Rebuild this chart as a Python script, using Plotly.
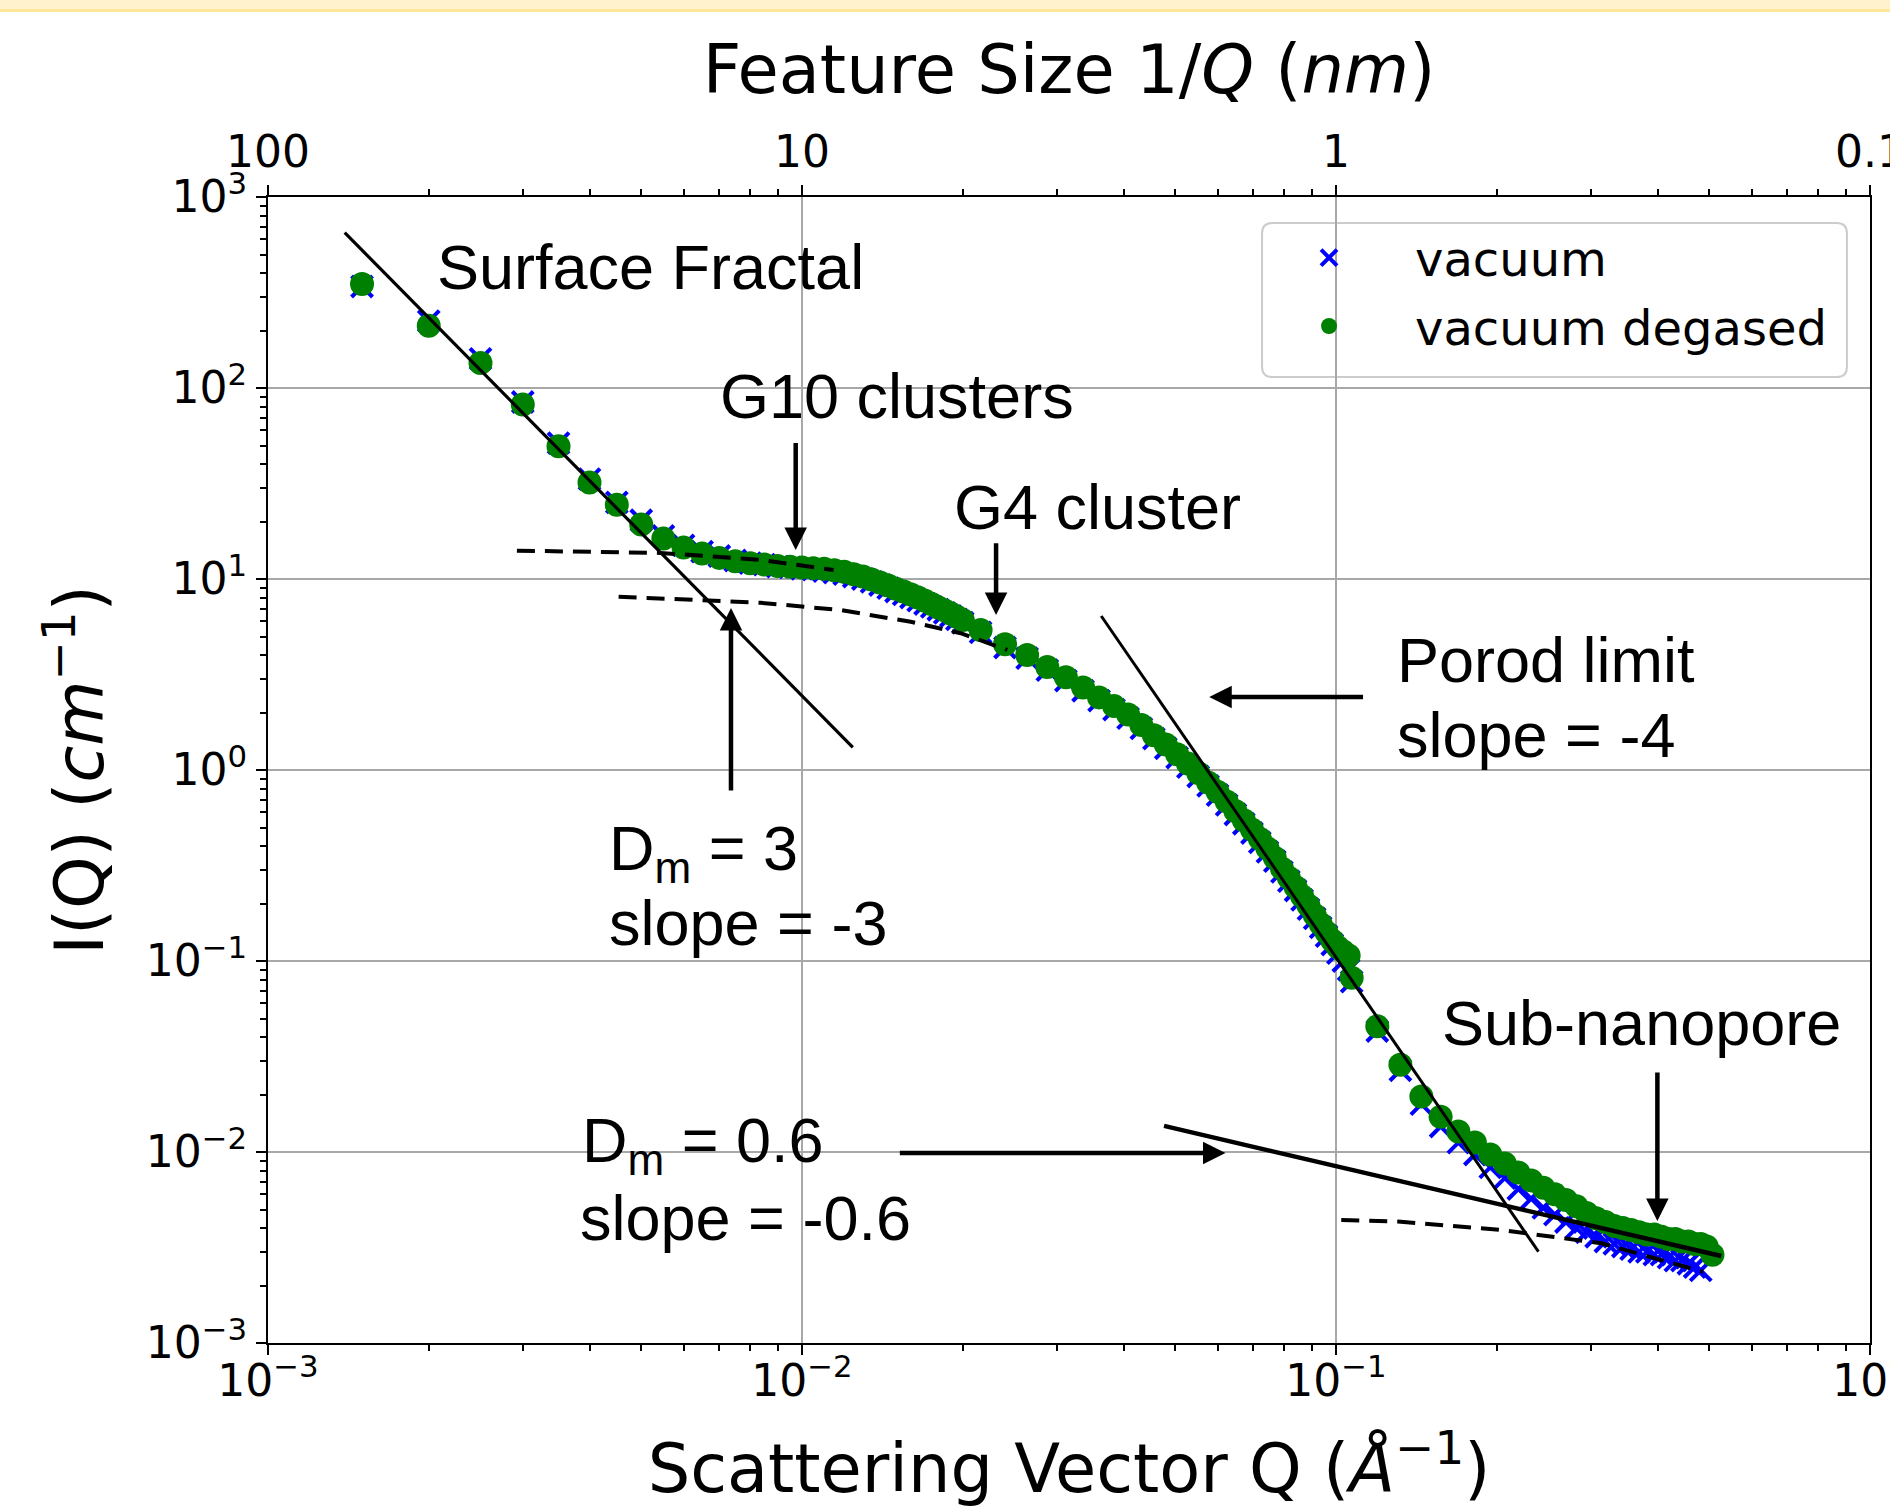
import math
import plotly.graph_objects as go

# ---------------- data ----------------
q_degased = [
    0.0015, 0.0020, 0.0025, 0.0030, 0.0035, 0.0040, 0.0045, 0.0050, 0.0055, 0.0060,
    0.0065, 0.0070, 0.0075, 0.0080, 0.0085, 0.0090, 0.0095, 0.0100, 0.0105, 0.0110,
    0.0115, 0.0120, 0.0125, 0.0130, 0.0135, 0.0140, 0.0145, 0.0150, 0.0155, 0.0160,
    0.0165, 0.0170, 0.0175, 0.0180, 0.0185, 0.0190, 0.0195, 0.0200,
    0.0216, 0.0240, 0.0264, 0.0288, 0.0312, 0.0336, 0.0360, 0.0384, 0.0408, 0.0432,
    0.0456, 0.0480, 0.0504, 0.0528, 0.0552, 0.0576, 0.0600, 0.0624, 0.0648, 0.0672,
    0.0696, 0.0720, 0.0744, 0.0768, 0.0792, 0.0816, 0.0840, 0.0864, 0.0888, 0.0912,
    0.0936, 0.0960, 0.0984, 0.1008, 0.1032, 0.1056,
    0.1070, 0.1195, 0.1320, 0.1445, 0.1570, 0.1695, 0.1820, 0.1945, 0.2070, 0.2195,
    0.2320, 0.2445, 0.2570, 0.2695, 0.2820, 0.2945, 0.3070, 0.3195, 0.3320, 0.3445,
    0.3570, 0.3695, 0.3820, 0.3945, 0.4070, 0.4195, 0.4320, 0.4445, 0.4570, 0.4695,
    0.4820, 0.4945, 0.5070,
]
i_degased = [
    350, 212, 135, 82, 49.5, 32, 24.5, 19.3, 16.3, 14.6,
    13.6, 12.9, 12.4, 12.1, 11.9, 11.7, 11.6, 11.5, 11.4, 11.3,
    11.1, 10.9, 10.6, 10.3, 9.95, 9.6, 9.25, 8.9, 8.6, 8.3,
    8.0, 7.7, 7.4, 7.1, 6.85, 6.6, 6.35, 6.1,
    5.41, 4.55, 4.00, 3.46, 3.06, 2.70, 2.40, 2.16, 1.95, 1.72,
    1.52, 1.36, 1.21, 1.08, 0.965, 0.86, 0.77, 0.685, 0.61, 0.545,
    0.488, 0.436, 0.389, 0.347, 0.305, 0.273, 0.244, 0.218, 0.195, 0.174,
    0.156, 0.141, 0.128, 0.118, 0.112, 0.107,
    0.0818, 0.0455, 0.0286, 0.0195, 0.0153, 0.0128, 0.0112, 0.0097, 0.0087, 0.0078,
    0.0071, 0.0065, 0.0060, 0.0056, 0.0052, 0.0048, 0.0045, 0.0043, 0.0041, 0.0040,
    0.0039, 0.0038, 0.0037, 0.0037, 0.0036, 0.0035, 0.0035, 0.0034, 0.0034, 0.0033,
    0.0033, 0.0032, 0.0029,
]

q_vacuum = [
    0.0015, 0.0020, 0.0025, 0.0030, 0.0035, 0.0040, 0.0045, 0.0050, 0.0055, 0.0060,
    0.0065, 0.0070, 0.0075, 0.0080, 0.0085, 0.0090, 0.0095, 0.0100, 0.0105, 0.0110,
    0.0115, 0.0120, 0.0125, 0.0130, 0.0135, 0.0140, 0.0145, 0.0150, 0.0155, 0.0160,
    0.0165, 0.0170, 0.0175, 0.0180, 0.0185, 0.0190, 0.0195, 0.0200,
    0.0216, 0.0240, 0.0264, 0.0288, 0.0312, 0.0336, 0.0360, 0.0384, 0.0408, 0.0432,
    0.0456, 0.0480, 0.0504, 0.0528, 0.0552, 0.0576, 0.0600, 0.0624, 0.0648, 0.0672,
    0.0696, 0.0720, 0.0744, 0.0768, 0.0792, 0.0816, 0.0840, 0.0864, 0.0888, 0.0912,
    0.0936, 0.0960, 0.0984, 0.1008, 0.1032, 0.1056,
    0.1070, 0.1195, 0.1320, 0.1445, 0.1570, 0.1695, 0.1820, 0.1945, 0.2070, 0.2195,
    0.2320, 0.2445, 0.2570, 0.2695, 0.2820, 0.2945, 0.3070, 0.3195, 0.3320, 0.3445,
    0.3570, 0.3695, 0.3820, 0.3945, 0.4070, 0.4195, 0.4320, 0.4445, 0.4570, 0.4695,
    0.4820,
]
i_vacuum = [
    340, 224, 142, 84.5, 51.5, 33.3, 25.2, 20.3, 16.8, 15.0,
    13.9, 13.2, 12.5, 12.1, 11.9, 11.6, 11.5, 11.3, 11.2, 11.0,
    10.8, 10.6, 10.3, 10.0, 9.65, 9.3, 8.95, 8.6, 8.3, 8.0,
    7.7, 7.4, 7.15, 6.9, 6.65, 6.4, 6.15, 5.9,
    5.25, 4.38, 3.85, 3.33, 2.94, 2.60, 2.31, 2.07, 1.87, 1.65,
    1.46, 1.30, 1.16, 1.035, 0.925, 0.825, 0.738, 0.657, 0.585, 0.523,
    0.468, 0.418, 0.373, 0.333, 0.293, 0.262, 0.234, 0.209, 0.187, 0.167,
    0.150, 0.135, 0.122, 0.110, 0.100, 0.090,
    0.078, 0.0430, 0.0268, 0.0178, 0.0136, 0.0112, 0.0097, 0.0083, 0.0073, 0.0064,
    0.0057, 0.0051, 0.0047, 0.0043, 0.0040, 0.0038, 0.0036, 0.0034, 0.0033, 0.0032,
    0.0031, 0.0030, 0.0030, 0.0029, 0.0029, 0.0028, 0.0027, 0.0027, 0.0026, 0.0025,
    0.0024,
]

# fitted power-law / model lines
surface_fit_q = [0.001392, 0.01245]
surface_fit_i = [651, 1.315]
porod_fit_q = [0.03634, 0.2394]
porod_fit_i = [6.40, 0.003006]
subnano_fit_q = [0.04764, 0.5266]
subnano_fit_i = [0.01369, 0.002854]
g10_fit_q = [0.002925, 0.00543, 0.00836, 0.01006, 0.01146]
g10_fit_i = [14.07, 13.7, 12.6, 11.8, 11.14]
g4_fit_q = [0.004535, 0.008358, 0.0118, 0.01598, 0.01982, 0.02424]
g4_fit_i = [8.08, 7.51, 6.88, 5.97, 5.20, 4.25]
subnano_model_q = [0.1023, 0.1323, 0.2038, 0.3139, 0.4867]
subnano_model_i = [0.004406, 0.004316, 0.003905, 0.003327, 0.002362]

# tick labels
q_ticks = [0.001, 0.01, 0.1, 1]
q_tick_text = ["10<sup>\u22123</sup>", "10<sup>\u22122</sup>", "10<sup>\u22121</sup>", "10<sup>0</sup>"]
size_tick_text = ["100", "10", "1", "0.1"]
i_ticks = [0.001, 0.01, 0.1, 1, 10, 100, 1000]
i_tick_text = ["10<sup>\u22123</sup>", "10<sup>\u22122</sup>", "10<sup>\u22121</sup>", "10<sup>0</sup>",
               "10<sup>1</sup>", "10<sup>2</sup>", "10<sup>3</sup>"]

# ---------------- figure ----------------
AXF = "DejaVu Sans"
ANF = "Liberation Sans, Arial"
L = math.log10

fig = go.Figure()
fig.add_trace(go.Scatter(
    x=q_vacuum, y=i_vacuum, mode="markers", name="vacuum", legendgroup="a",
    marker=dict(symbol="x-thin", size=21, color="#0000ff",
                line=dict(color="#0000ff", width=4))))
fig.add_trace(go.Scatter(
    x=q_degased, y=i_degased, mode="markers", name="vacuum degased", legendgroup="b",
    marker=dict(symbol="circle", size=24, color="#008000", line=dict(width=0))))

def line(qs, iis, width, dash="solid"):
    fig.add_trace(go.Scatter(x=qs, y=iis, mode="lines", showlegend=False, hoverinfo="skip",
                             line=dict(color="black", width=width, dash=dash)))

line(surface_fit_q, surface_fit_i, 3.2)
line(porod_fit_q, porod_fit_i, 3.0)
line(subnano_fit_q, subnano_fit_i, 4.4)
line(g10_fit_q, g10_fit_i, 4, "18px,10px")
line(g4_fit_q, g4_fit_i, 4, "18px,10px")
line(subnano_model_q, subnano_model_i, 4, "18px,10px")

# carrier trace for the top (feature size) axis
fig.add_trace(go.Scatter(x=[0.001, 1], y=[1, 1], xaxis="x2", mode="markers",
                         marker=dict(size=1, opacity=0), showlegend=False, hoverinfo="skip"))

# ---------------- annotations ----------------
texts = [
    ("Surface Fractal", 0.002055, 430),
    ("G10 clusters", 0.006976, 90.8),
    ("G4 cluster", 0.01913, 23.8),
    ("Porod limit", 0.1288, 3.789),
    ("slope = -4", 0.1288, 1.516),
    ("D<sub>m</sub> = 3", 0.004309, 0.370),
    ("slope = -3", 0.004309, 0.1576),
    ("D<sub>m</sub> = 0.6", 0.003840, 0.01093),
    ("slope = -0.6", 0.003812, 0.004539),
    ("Sub-nanopore", 0.1568, 0.04713),
]
annotations = []
for t, qx, iy in texts:
    annotations.append(dict(text=t, x=L(qx), y=L(iy), xref="x", yref="y",
                            xanchor="left", yanchor="middle", showarrow=False,
                            font=dict(family=ANF, size=63, color="black")))

# arrows: (tip_q, tip_i, tail_q, tail_i)
arrows = [
    (0.009732, 14.18, 0.009732, 52.4),     # G10 clusters
    (0.02309, 6.48, 0.02309, 15.68),       # G4 cluster
    (0.007362, 7.05, 0.007362, 0.767),     # Dm = 3
    (0.05790, 2.411, 0.1131, 2.411),       # Porod
    (0.06210, 0.00988, 0.01515, 0.00988),  # Dm = 0.6
    (0.3998, 0.004352, 0.3998, 0.02655),   # Sub-nanopore
]
for tq, ti, aq, ai in arrows:
    annotations.append(dict(text="", x=L(tq), y=L(ti), ax=L(aq), ay=L(ai),
                            xref="x", yref="y", axref="x", ayref="y",
                            showarrow=True, arrowhead=2, arrowsize=1.0,
                            arrowwidth=4.5, arrowcolor="black", standoff=0, startstandoff=0))

minor_vals = [m * 10 ** e for e in range(-3, 3) for m in range(2, 10)]

common = dict(type="log", showline=True, linecolor="black", linewidth=2,
              ticks="outside", ticklen=10, tickwidth=2, tickcolor="black",
              tickfont=dict(family=AXF, size=44, color="black"),
              zeroline=False, tickmode="array", ticklabeloverflow="allow", automargin=False)

# rounded legend frame (paper coordinates)
lx0, lx1, ly0, ly1 = 0.6205, 0.9856, 0.8429, 0.9773
rx, ry = 0.0065, 0.009
legend_frame = (f"M{lx0+rx},{ly0} L{lx1-rx},{ly0} Q{lx1},{ly0} {lx1},{ly0+ry} "
                f"L{lx1},{ly1-ry} Q{lx1},{ly1} {lx1-rx},{ly1} L{lx0+rx},{ly1} "
                f"Q{lx0},{ly1} {lx0},{ly1-ry} L{lx0},{ly0+ry} Q{lx0},{ly0} {lx0+rx},{ly0} Z")

fig.update_layout(
    width=1890, height=1509, autosize=False,
    margin=dict(l=268, r=20, t=197, b=166, pad=0, autoexpand=False),
    paper_bgcolor="white", plot_bgcolor="white",
    font=dict(family=AXF, color="black"),
    xaxis=dict(**common, range=[-3, 0], tickvals=q_ticks, ticktext=q_tick_text,
               showgrid=True, gridcolor="#a8a8a8", gridwidth=1.5, ticklabelstandoff=-12,
               minor=dict(ticks="outside", ticklen=6, tickwidth=1.5, tickcolor="black",
                          tickvals=minor_vals, showgrid=False),
               title=dict(text="Scattering Vector Q (<i>Å</i><sup>\u22121</sup>)",
                          font=dict(family=AXF, size=67, color="black"), standoff=40)),
    xaxis2=dict(**common, range=[-3, 0], tickvals=q_ticks, ticktext=size_tick_text,
                overlaying="x", side="top", anchor="y", showgrid=False,
                minor=dict(ticks="outside", ticklen=6, tickwidth=1.5, tickcolor="black",
                           tickvals=minor_vals, showgrid=False),
                title=dict(text="Feature Size 1/<i>Q</i> (<i>nm</i>)",
                           font=dict(family=AXF, size=67, color="black"), standoff=11)),
    yaxis=dict(**common, range=[-3, 3], tickvals=i_ticks, ticktext=i_tick_text,
               mirror=True, showgrid=True, gridcolor="#a8a8a8", gridwidth=1.5,
               minor=dict(ticks="outside", ticklen=6, tickwidth=1.5, tickcolor="black",
                          tickvals=minor_vals, showgrid=False),
               title=dict(text="I(Q) (<i>cm</i><sup>\u22121</sup>)",
                          font=dict(family=AXF, size=67, color="black"), standoff=20)),
    legend=dict(x=0.9763, xanchor="right", y=0.980, yanchor="top",
                bgcolor="rgba(0,0,0,0)", borderwidth=0,
                font=dict(family=AXF, size=48, color="black"),
                itemwidth=162, tracegroupgap=3),
    annotations=annotations,
    shapes=[
        dict(type="path", xref="paper", yref="paper", path=legend_frame,
             fillcolor="rgba(255,255,255,0.92)", line=dict(color="#cccccc", width=2),
             layer="between"),
        dict(type="rect", xref="paper", yref="paper", x0=-0.2, x1=1.05, y0=1.1636, y1=1.18,
             fillcolor="#fff2cc", line=dict(width=0), layer="above"),
        dict(type="line", xref="paper", yref="paper", x0=-0.2, x1=1.05, y0=1.1627, y1=1.1627,
             line=dict(color="#ffe699", width=3), layer="above"),
    ],
    showlegend=True,
)

fig.write_html("out.html")
